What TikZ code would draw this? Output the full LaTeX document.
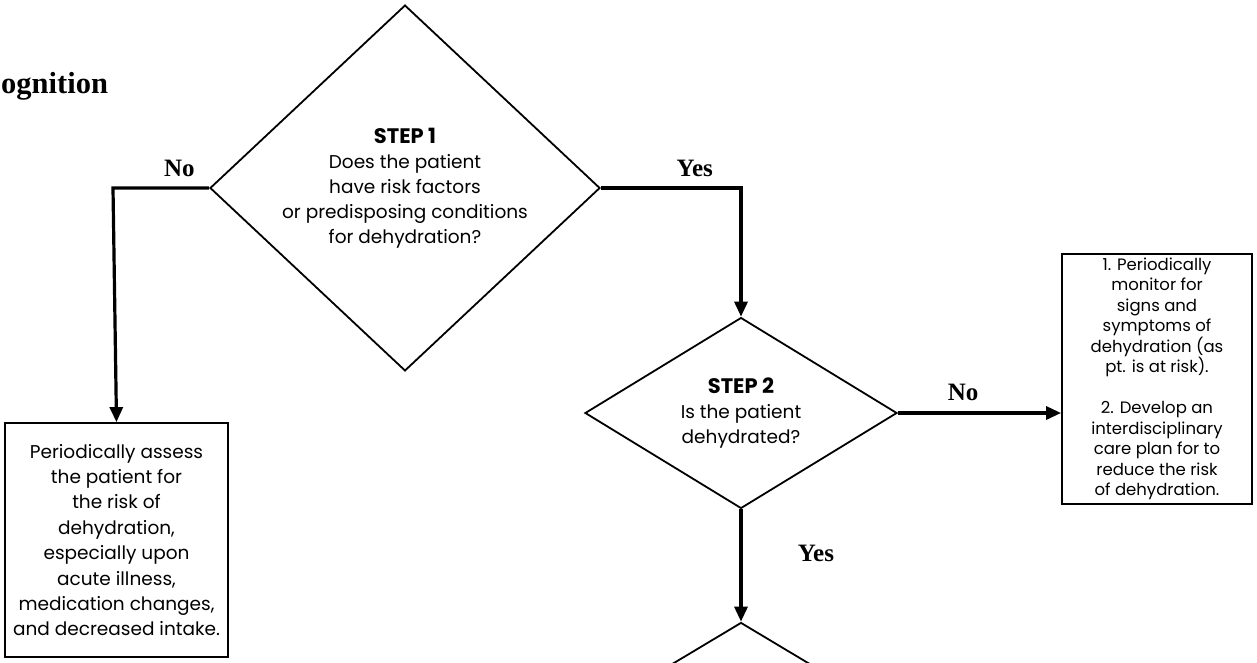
\documentclass[tikz,border=0pt]{standalone}
\usepackage{fontspec}
\setmainfont{Poppins}
\newfontfamily\answerfont{Liberation Serif}
\usetikzlibrary{shapes.geometric,arrows.meta}

\begin{document}
\begin{tikzpicture}[x=1pt,y=-1pt,
    decision/.style={diamond,draw,line width=1.8pt,inner sep=0pt,align=center,
      font=\fontsize{18.5}{25}\selectfont},
    action/.style={rectangle,draw,line width=1.8pt,inner sep=0pt,align=center,
      font=\fontsize{18.5}{25.4}\selectfont},
    answer/.style={font=\answerfont\bfseries\fontsize{25}{25}\selectfont},
    flow/.style={line width=3.2pt,-{Triangle[length=15pt,width=13pt]}}]
  \useasboundingbox (0,0) rectangle (1257,662);
  \node[anchor=base west,inner sep=0pt,font=\answerfont\bfseries\fontsize{30.5}{31}\selectfont]
    (heading) at (1,93) {ognition};
  \node[decision,minimum width=390pt,minimum height=359pt] (step1) at (405,188)
    {{\bfseries\fontsize{21}{25}\selectfont STEP 1}\\Does the patient\\have risk factors\\or predisposing conditions\\for dehydration?};
  \node[decision,minimum width=312pt,minimum height=187pt] (step2) at (741,413)
    {{\bfseries\fontsize{21}{25}\selectfont STEP 2}\\Is the patient\\dehydrated?};
  \node[decision,minimum width=312pt,minimum height=187pt] (step3) at (741,716) {};
  \node[action,minimum width=223pt,minimum height=234pt] (assess) at (116.5,540)
    {Periodically assess\\the patient for\\the risk of\\dehydration,\\especially upon\\acute illness,\\medication changes,\\and decreased intake.};
  \node[action,font=\fontsize{16.5}{20.5}\selectfont,minimum width=190pt,minimum height=250pt]
    (monitor) at (1157,379)
    {1. Periodically\\monitor for\\signs and\\symptoms of\\dehydration (as\\pt. is at risk).\\[20.5pt]2. Develop an\\interdisciplinary\\care plan for to\\reduce the risk\\of dehydration.};
  \draw[flow] (step1.west) -- node[answer,pos=0.31,above=6pt] (no1) {No} (113,188) -- (assess.north);
  \draw[flow] (step1.east) -- node[answer,pos=0.67,above=6pt] (yes1) {Yes} (741,188) -- (step2.north);
  \draw[flow] (step2.east) -- node[answer,pos=0.4,above=7pt] (no2) {No} (step2.east -| monitor.west);
  \draw[flow] (step2.south) -- node[answer,pos=0.39,right=52pt] (yes2) {Yes} (step3.north);
\end{tikzpicture}
\end{document}
